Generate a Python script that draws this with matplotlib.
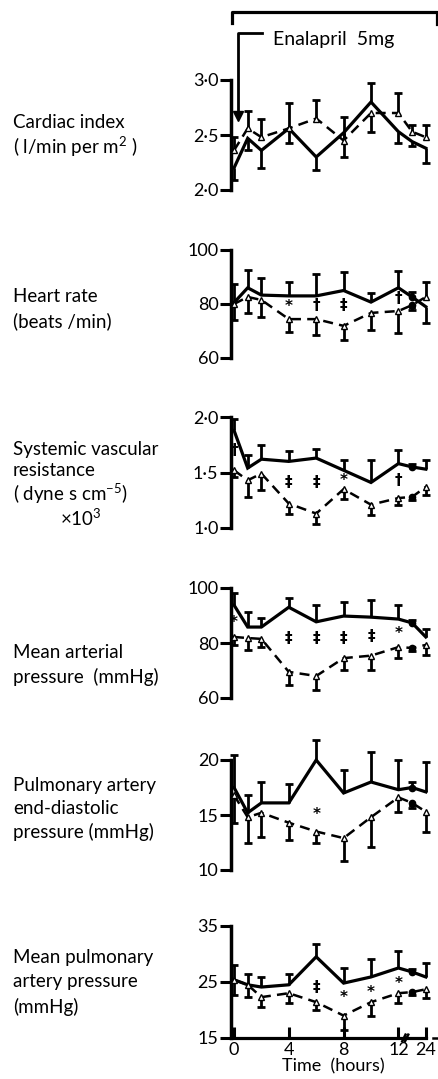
import numpy as np
import matplotlib
matplotlib.use("Agg")
import matplotlib.pyplot as plt
from matplotlib.lines import Line2D

plt.rcParams['font.family'] = ['Lato', 'DejaVu Sans']
plt.rcParams['mathtext.fontset'] = 'custom'
plt.rcParams['mathtext.rm'] = 'Lato'
plt.rcParams['mathtext.default'] = 'regular'

W, H = 438, 1079

# --- data ---
hours = [0, 1, 2, 4, 6, 8, 10, 12, 18, 24]
tick_hours = [0, 4, 8, 12, 24]

# cardiac index
ci_ctrl = [2.20, 2.47, 2.36, 2.56, 2.30, 2.52, 2.80, 2.53, 2.44, 2.38]
ci_ctrl_err = [-0.11, -0.11, -0.16, -0.13, -0.12, -0.22, 0.17, -0.10, -0.04, -0.13]
ci_enal = [2.36, 2.56, 2.48, 2.56, 2.65, 2.45, 2.70, 2.70, 2.53, 2.48]
ci_enal_err = [0.12, 0.16, 0.17, 0.23, 0.17, 0.21, -0.17, 0.18, 0.06, 0.11]

# heart rate
hr_ctrl = [80.5, 86, 83.3, 83, 83, 85, 80.7, 86, 82.6, 79]
hr_ctrl_err = [7, 6.6, 6.3, 5, 8, 7, 3.3, 6.2, 2, -6]
hr_enal = [80, 82.6, 81.5, 74.4, 74.4, 71.9, 76.7, 77.4, 79.6, 82.6]
hr_enal_err = [-6, -6, -6.3, -4.8, -6, -5.2, -6.3, -8, -2, 5.4]
hr_sig = [(4, 79, '*'), (6, 79.5, '†'), (8, 79.5, '‡'), (12, 82, '†')]

# systemic vascular resistance
svr_ctrl = [1.88, 1.54, 1.62, 1.60, 1.63, 1.52, 1.41, 1.58, 1.55, 1.53]
svr_ctrl_err = [0.10, 0.12, 0.13, 0.09, 0.08, 0.09, 0.20, 0.12, 0.03, 0.08]
svr_enal = [1.52, 1.43, 1.49, 1.22, 1.13, 1.35, 1.21, 1.27, 1.28, 1.37]
svr_enal_err = [-0.06, -0.15, -0.15, -0.09, -0.09, -0.09, -0.09, -0.06, -0.03, -0.07]
svr_sig = [(0, 1.70, '†'), (4, 1.41, '‡'), (6, 1.41, '‡'), (8, 1.43, '*'), (12, 1.43, '†')]

# mean arterial pressure
map_ctrl = [93.8, 85.8, 85.8, 93, 87.7, 89.8, 89.4, 88.7, 87.3, 82.2]
map_ctrl_err = [4.4, 5.5, 3.3, 3.4, 6, 5.2, 6.2, 5, 1, 2.8]
map_enal = [82.2, 81.8, 81.5, 69.5, 68, 74.5, 75.4, 78.5, 78.2, 79.3]
map_enal_err = [-3, -4.3, -2.9, -4.8, -5, -4.3, -5.2, -4, -1, -3.7]
map_sig = [(0, 87.3, '*'), (4, 81.8, '‡'), (6, 81.8, '‡'), (8, 81.8, '‡'), (10, 82.2, '‡'), (12, 83.6, '*')]

# pulmonary artery end-diastolic pressure
pad_ctrl = [17.5, 15.2, 16.1, 16.1, 20, 17, 18, 17.3, 17.5, 17.1]
pad_ctrl_err = [3, 1.6, 1.9, 1.7, 1.8, 2.1, 2.7, 2.7, 0.5, 2.7]
pad_enal = [16.8, 14.8, 15.2, 14.3, 13.5, 12.9, 14.8, 16.6, 16.1, 15.3]
pad_enal_err = [-2.5, -2.3, -2.2, -1.6, -1, -2.1, -2.7, -1.3, -0.5, -1.8]
pad_sig = [(6, 15.0, '*')]

# mean pulmonary artery pressure
mpa_ctrl = [25.4, 24.5, 24.1, 24.5, 29.5, 24.8, 25.9, 27.5, 26.8, 25.9]
mpa_ctrl_err = [2.6, 2, 1.8, 2, 2.3, 2.7, 3.2, 3, 0.5, 2.5]
mpa_enal = [25.4, 24.5, 22.3, 23, 21.4, 19, 21.4, 23, 23.2, 23.7]
mpa_enal_err = [-2.7, -2.2, -1.8, -1.7, -1.4, -2.6, -2.4, -1.7, -0.5, -1.5]
mpa_sig = [(6, 24.1, '‡'), (8, 22.3, '*'), (10, 23.2, '*'), (12, 24.8, '*')]

panels = [
    # labels, ticks, tick px (top, bottom), ctrl, ctrl err, enal, enal err, sig, label y px
    (["Cardiac index", "( l/min per m$^{2}$ )"], [2.0, 2.5, 3.0], (80, 190),
     ci_ctrl, ci_ctrl_err, ci_enal, ci_enal_err, [], [122, 147]),
    (["Heart rate", "(beats /min)"], [60, 80, 100], (250, 358),
     hr_ctrl, hr_ctrl_err, hr_enal, hr_enal_err, hr_sig, [297, 321]),
    (["Systemic vascular", "resistance", "( dyne s cm$^{-5}$)", "×10$^{3}$"], [1.0, 1.5, 2.0], (417, 528),
     svr_ctrl, svr_ctrl_err, svr_enal, svr_enal_err, svr_sig, [449, 471, 494, 518]),
    (["Mean arterial", "pressure  (mmHg)"], [60, 80, 100], (588, 698),
     map_ctrl, map_ctrl_err, map_enal, map_enal_err, map_sig, [653, 677]),
    (["Pulmonary artery", "end-diastolic", "pressure (mmHg)"], [10, 15, 20], (760, 870),
     pad_ctrl, pad_ctrl_err, pad_enal, pad_enal_err, pad_sig, [786, 809, 832]),
    (["Mean pulmonary", "artery pressure", "(mmHg)"], [15, 25, 35], (926, 1038),
     mpa_ctrl, mpa_ctrl_err, mpa_enal, mpa_enal_err, mpa_sig, [957, 982, 1007]),
]


def xpos(t):
    # time axis is broken after 12 h
    t = np.asarray(t, dtype=float)
    return np.where(t <= 12, t, 12 + (t - 12) / 6.0)


def fx(px):
    return px / W


def fy(py):
    return 1 - py / H


def draw_err(ax, x, y, err):
    y = np.asarray(y)
    err = np.asarray(err)
    ends = y + err
    ax.vlines(x, y, ends, colors='black', lw=2.0, clip_on=False, zorder=2)
    ax.plot(x, ends, ls='none', marker='_', ms=6, mew=2.0, color='black', clip_on=False, zorder=2)


fig = plt.figure(figsize=(W / 100, H / 100), dpi=100)

ax_left, ax_right = 231, 436
px_per_h = 13.7
x0_px = 234
xlim = ((ax_left - x0_px) / px_per_h, (ax_right - x0_px) / px_per_h)

x = xpos(hours)
axes = []
for i, (labels, ticks, (ptop, pbot), c, ce, e, ee, sig, label_y) in enumerate(panels):
    ax = fig.add_axes([fx(ax_left), fy(pbot), fx(ax_right - ax_left), (pbot - ptop) / H])
    ax.set_xlim(*xlim)
    ax.set_ylim(ticks[0], ticks[-1])
    ax.patch.set_alpha(0)

    draw_err(ax, x, c, ce)
    draw_err(ax, x, e, ee)
    ax.plot(x, c, color='black', lw=2.3, solid_joinstyle='miter', clip_on=False, zorder=3)
    ax.plot(x, e, color='black', lw=1.8, ls=(0, (4, 2.5)), marker='^', ms=4,
            mfc='white', mec='black', mew=1.0, clip_on=False, zorder=3)
    # filled points at the 18 h reading
    if i > 0:
        ax.plot(x[8], c[8], 'o', color='black', ms=4.5, clip_on=False, zorder=4)
        ax.plot(x[8], e[8], 'o', color='black', ms=4.5, clip_on=False, zorder=4)

    for t, v, s in sig:
        ax.text(xpos(t), v, s, ha='center', va='center', fontsize=11,
                fontweight='bold', family=['DejaVu Sans'])

    for sp in ['top', 'right', 'bottom']:
        ax.spines[sp].set_visible(False)
    ax.spines['left'].set_linewidth(2.5)
    ax.spines['left'].set_bounds(ticks[0], ticks[-1])
    ax.set_yticks(ticks)
    if isinstance(ticks[0], float):
        ax.set_yticklabels([f"{t:.1f}".replace('.', '·') for t in ticks])
    else:
        ax.set_yticklabels([str(t) for t in ticks])
    ax.tick_params(axis='y', direction='out', length=8, width=2.2, labelsize=13, pad=1)
    ax.set_xticks([])

    for j, (txt, ly) in enumerate(zip(labels, label_y)):
        lx = 60 if txt.startswith('×') else 13
        fig.text(fx(lx), fy(ly), txt, ha='left', va='center', fontsize=13.5)
    axes.append(ax)

# bottom time axis
ax = axes[-1]
ax.spines['bottom'].set_visible(True)
ax.spines['bottom'].set_linewidth(2.3)
ax.spines['bottom'].set_bounds(0, 14)
ax.set_xticks(xpos(tick_hours))
ax.set_xticklabels([str(t) for t in tick_hours])
ax.tick_params(axis='x', direction='in', length=8, width=2.2, labelsize=13, pad=3)
ax.set_xlabel("Time  (hours)", fontsize=13, labelpad=0)
# axis break marks
for bx in [12.4, 12.6]:
    ax.plot([bx - 0.12, bx + 0.12], [14.4, 15.6], color='black', lw=1.8, clip_on=False)
ax.plot([14.55, 14.8], [15, 15], color='black', lw=1.8, clip_on=False)

# treatment bracket and arrow
fig.add_artist(Line2D([fx(232), fx(232), fx(437), fx(437)], [fy(23), fy(12), fy(12), fy(24)],
                      color='black', lw=2.3))
fig.add_artist(Line2D([fx(262), fx(238), fx(238)], [fy(33), fy(33), fy(110)],
                      color='black', lw=2.0))
fig.add_artist(Line2D([fx(238)], [fy(116)], marker='v', ms=7, color='black', ls='none'))
fig.text(fx(273), fy(40), "Enalapril  5mg", ha='left', va='center', fontsize=14)

fig.savefig("out.png", dpi=100)
